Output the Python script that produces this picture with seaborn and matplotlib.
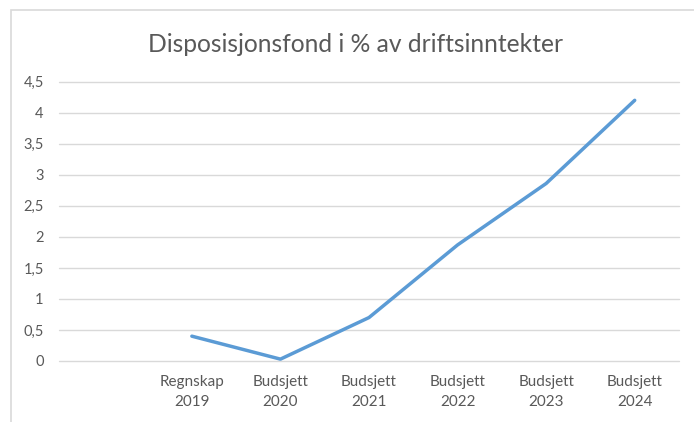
import matplotlib
matplotlib.use("Agg")
import matplotlib.pyplot as plt
import seaborn as sns
import pandas as pd
from matplotlib.patches import Rectangle
from matplotlib.ticker import FuncFormatter, MultipleLocator

# ============================================================
# DATA
# ============================================================

title = "Disposisjonsfond i % av driftsinntekter"
categories = ["Regnskap\n2019", "Budsjett\n2020", "Budsjett\n2021",
              "Budsjett\n2022", "Budsjett\n2023", "Budsjett\n2024"]
values = [0.40, 0.03, 0.70, 1.87, 2.86, 4.20]

df = pd.DataFrame({"Kategori": categories, "Verdi": values})

# ============================================================
# STYLE
# ============================================================

sns.set_theme(style="white")
plt.rcParams["font.family"] = ["Lato", "DejaVu Sans"]

text_grey = "#595959"
grid_grey = "#D9D9D9"
line_blue = "#5B9BD5"

fig = plt.figure(figsize=(6.94, 4.22), dpi=100)
ax = fig.add_axes([59 / 694, 61 / 422, 620 / 694, 279.3 / 422])

# chart frame (Excel-like border)
fig.patches.append(Rectangle((11 / 694, -0.05), 1.0, 1 - 10 / 422 + 0.05,
                             transform=fig.transFigure, fill=False,
                             edgecolor="#D9D9D9", linewidth=1.2))

sns.lineplot(data=df, x="Kategori", y="Verdi", ax=ax, sort=False,
             color=line_blue, linewidth=2.5, solid_capstyle="round",
             clip_on=False)

ax.set_xlim(-1.5, 5.5)
ax.set_ylim(0, 4.5)
ax.yaxis.set_major_locator(MultipleLocator(0.5))
ax.yaxis.set_major_formatter(FuncFormatter(lambda v, p: f"{v:g}".replace(".", ",")))
ax.yaxis.grid(True, color=grid_grey, linewidth=1.0)
ax.xaxis.grid(False)
ax.set_axisbelow(True)
for gl in ax.get_ygridlines():
    gl.set_clip_on(False)

for s in ax.spines.values():
    s.set_visible(False)

ax.tick_params(axis="y", length=0, pad=11, labelsize=10.5, labelcolor=text_grey)
ax.tick_params(axis="x", length=0, pad=10, labelsize=11, labelcolor=text_grey)
for lbl in ax.get_xticklabels():
    lbl.set_linespacing(1.6)

ax.set_xlabel("")
ax.set_ylabel("")

fig.text(355 / 694, 1 - 45 / 422, title, ha="center", va="center",
         fontsize=17.7, color=text_grey)

fig.savefig("out.png", dpi=100)
